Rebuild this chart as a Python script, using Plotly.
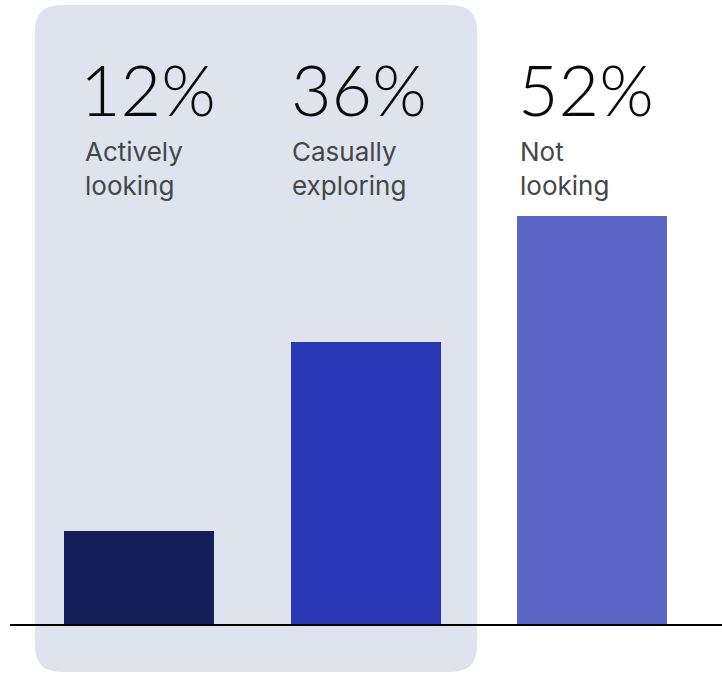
import plotly.graph_objects as go

categories = ["Actively looking", "Casually exploring", "Not looking"]
label_lines = ["Actively<br>looking", "Casually<br>exploring", "Not<br>looking"]
values = [12, 36, 52]
value_labels = ["12%", "36%", "52%"]
colors = ["#141f5a", "#2a38b8", "#5b66c6"]

W, H = 722, 674
x_pos = list(range(len(categories)))

# axis ranges mapping: center of bar0 at px 139, 226.5 px per category
PX_PER_CAT = 226.5
X0_PX = 139
xr = [-X0_PX / PX_PER_CAT, (W - X0_PX) / PX_PER_CAT]
BASE_PX = 625
PX_PER_PCT = 7.87
yr = [-(H - BASE_PX) / PX_PER_PCT, BASE_PX / PX_PER_PCT]

fig = go.Figure()
fig.add_trace(go.Bar(
    x=x_pos, y=values, marker=dict(color=colors, line=dict(width=0)),
    width=150 / PX_PER_CAT, hoverinfo="skip", showlegend=False,
))

def px(x):
    return x / W

def py(y):
    return 1 - y / H

# rounded background panel (pixel coords converted to paper)
L, T, R, B, r = 35, 5, 477, 672, 26
path = (
    f"M {px(L+r)},{py(T)} L {px(R-r)},{py(T)} Q {px(R)},{py(T)} {px(R)},{py(T+r)} "
    f"L {px(R)},{py(B-r)} Q {px(R)},{py(B)} {px(R-r)},{py(B)} "
    f"L {px(L+r)},{py(B)} Q {px(L)},{py(B)} {px(L)},{py(B-r)} "
    f"L {px(L)},{py(T+r)} Q {px(L)},{py(T)} {px(L+r)},{py(T)} Z"
)
shapes = [
    dict(type="path", path=path, xref="paper", yref="paper",
         fillcolor="#dfe3ee", line=dict(width=0), layer="below"),
    dict(type="line", xref="paper", yref="y", x0=px(10), x1=1, y0=0, y1=0,
         line=dict(color="#000000", width=2.2), layer="above"),
]

value_xshifts = [-61, -77, -76]
label_xshifts = [-56, -76, -74]
annotations = []
for i, (v, lab) in enumerate(zip(value_labels, label_lines)):
    annotations.append(dict(
        x=i, xref="x", y=py(118), yref="paper", text=v, showarrow=False,
        xanchor="left", yanchor="bottom", xshift=value_xshifts[i], yshift=-15,
        font=dict(family="Lato", size=70, color="#0a0a0a", weight=300),
    ))
    annotations.append(dict(
        x=i, xref="x", y=py(134), yref="paper", text=lab, showarrow=False,
        xanchor="left", yanchor="top", align="left", xshift=label_xshifts[i],
        font=dict(family="Inter", size=26, color="#444746"),
    ))

fig.update_layout(
    width=W, height=H, margin=dict(l=0, r=0, t=0, b=0),
    paper_bgcolor="white", plot_bgcolor="rgba(0,0,0,0)",
    xaxis=dict(range=xr, visible=False, fixedrange=True),
    yaxis=dict(range=yr, visible=False, fixedrange=True),
    shapes=shapes, annotations=annotations, bargap=0,
)
fig.write_html("out.html")
